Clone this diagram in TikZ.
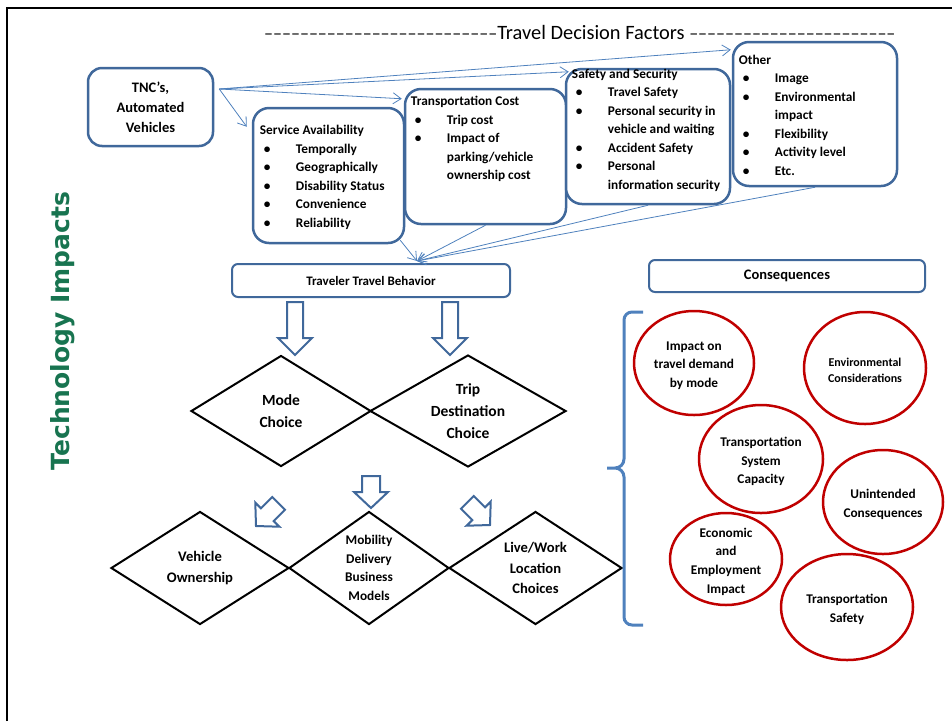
\documentclass[tikz,border=0pt]{standalone}
\usepackage{fontspec}
\setmainfont{Carlito}
\newfontfamily\sidefont{DejaVu Sans}
\usetikzlibrary{shapes.geometric,arrows.meta,calc}

\definecolor{boxblue}{RGB}{64,104,155}
\definecolor{linkblue}{RGB}{79,129,189}
\definecolor{consred}{RGB}{192,0,0}
\definecolor{techgreen}{RGB}{24,116,80}

\newcommand{\itm}{\makebox[36pt][l]{\hspace{4pt}\textbullet}}
\newcommand{\contd}{\hspace*{36pt}}
\newcommand{\dashrun}[1]{\foreach \k in {1,...,#1}{–}}

\tikzset{
  factor/.style={draw=boxblue, line width=2.5pt, rounded corners=16pt, fill=white},
  facttext/.style={anchor=north west, inner sep=0pt, align=left, font=\bfseries\fontsize{13.3}{18.5}\selectfont},
  bar/.style={draw=boxblue, line width=2pt, rounded corners=6pt, fill=white, font=\bfseries\fontsize{13}{16}\selectfont},
  choice/.style={draw, diamond, line width=2pt, inner sep=0pt, align=center, font=\bfseries\fontsize{15.5}{22}\selectfont},
  cons/.style={draw=consred, ellipse, line width=2.5pt},
  constext/.style={align=center, inner sep=0pt, yshift=-2.5pt, font=\bfseries\fontsize{13.3}{18.6}\selectfont},
  link/.style={draw=linkblue, line width=0.8pt, -{Straight Barb[length=8pt,width=11pt]}},
  brace/.style={draw=linkblue, line width=3pt},
  hollow/.style={draw=boxblue, line width=2pt, fill=white, line join=miter},
  bigdown/.pic={\draw[hollow] (-8,-53) -- (8,-53) -- (8,-17) -- (17,-17) -- (0,0) -- (-17,-17) -- (-8,-17) -- cycle;},
  smalldown/.pic={\draw[hollow] (-9,-32) -- (9,-32) -- (9,-16) -- (17,-16) -- (0,0) -- (-17,-16) -- (-9,-16) -- cycle;}
}

\begin{document}
\begin{tikzpicture}[x=1pt, y=-1pt]
\useasboundingbox (0,0) rectangle (952,721);
\draw[line width=2pt] (7,721) -- (7,8) -- (952,8);
\node[anchor=base west, inner sep=0pt, font=\fontsize{20.4}{24}\selectfont] (title) at (264,39) {{\fontsize{18}{24}\selectfont\dashrun{26}}Travel Decision Factors {\fontsize{18}{24}\selectfont\dashrun{23}}};
\node[rotate=90, text=techgreen, font=\sidefont\bfseries\fontsize{25}{30}\selectfont] (side) at (63,331) {Technology Impacts};

\node[factor, rounded corners=14pt, minimum width=125pt, minimum height=78pt, align=center, font=\bfseries\fontsize{14.5}{20}\selectfont] (tnc) at (150.5,107) {TNC’s,\\Automated\\Vehicles};
\node[factor, minimum width=151pt, minimum height=135pt] (sa) at (328.5,175.5) {};
\node[factor, minimum width=161pt, minimum height=135pt] (tc) at (485.5,156.5) {};
\node[factor, minimum width=164pt, minimum height=135pt] (ss) at (648,136.5) {};
\node[factor, minimum width=164pt, minimum height=144pt] (ot) at (815,114) {};
\node[facttext] (satxt) at ($(sa.north west)+(8,18.5)$) {Service Availability\\\itm Temporally\\\itm Geographically\\\itm Disability Status\\\itm Convenience\\\itm Reliability};
\node[facttext] (tctxt) at ($(tc.north west)+(7,8.5)$) {Transportation Cost\\\itm Trip cost\\\itm Impact of\\\contd parking/vehicle\\\contd ownership cost};
\node[facttext] (sstxt) at ($(ss.north west)+(7,1)$) {Safety and Security\\\itm Travel Safety\\\itm Personal security in\\\contd vehicle and waiting\\\itm Accident Safety\\\itm Personal\\\contd information security};
\node[facttext] (ottxt) at ($(ot.north west)+(7,14)$) {Other\\\itm Image\\\itm Environmental\\\contd impact\\\itm Flexibility\\\itm Activity level\\\itm Etc.};

\node[bar, minimum width=278pt, minimum height=33pt] (tb) at (371,280.5) {Traveler Travel Behavior};
\node[bar, minimum width=276pt, minimum height=32pt, font=\bfseries\fontsize{14.5}{18}\selectfont] (cq) at (787,276) {Consequences};

\coordinate (tncout) at ($(tnc.east)+(5,-18)$);
\draw[link] (tncout) -- ($(sa.north west)+(-5,20)$);
\draw[link] (tncout) -- ($(tc.north west)+(-2,11)$);
\draw[link] (tncout) -- ($(ss.north west)+(4,4)$);
\draw[link] (tncout) -- ($(ot.north west)+(-1,9)$);
\coordinate (tbin) at ($(tb.north)+(46,-2)$);
\draw[link] ($(sa.south east)+(-5,-4)$) -- (tbin);
\draw[link] (tc.south) -- (tbin);
\draw[link] (ss.south) -- (tbin);
\draw[link] (ot.south) -- (tbin);

\pic at (295,355) {bigdown};
\pic at (450,355) {bigdown};
\node[choice, aspect=1.62, minimum width=180pt, minimum height=111pt] (mode) at (281,411) {Mode\\Choice};
\node[choice, aspect=1.75, minimum width=196pt, minimum height=112pt] (trip) at (468,411) {Trip\\Destination\\Choice};

\pic at (371,508) {smalldown};
\pic[rotate=-45] at (256,526) {smalldown};
\pic[rotate=45] at (490,525) {smalldown};
\node[choice, aspect=1.58, minimum width=178pt, minimum height=113pt, font=\bfseries\fontsize{14.6}{20.5}\selectfont] (veh) at (200,568) {Vehicle\\Ownership};
\node[choice, aspect=1.42, minimum width=160pt, minimum height=113pt, font=\bfseries\fontsize{13.3}{18.6}\selectfont] (mob) at (369,568) {Mobility\\Delivery\\Business\\Models};
\node[choice, aspect=1.53, minimum width=173pt, minimum height=113pt, font=\bfseries\fontsize{14.6}{20.5}\selectfont] (live) at (535.5,568) {Live/Work\\Location\\Choices};

\draw[brace] (643,312) -- (632,312) to[out=180,in=90] (624,320) -- (624,459) to[out=-90,in=0] (615,468) -- (607,468)
  -- (615,468) to[out=0,in=90] (624,477) -- (624,617) to[out=-90,in=180] (632,625) -- (643,625);

\node[cons, minimum width=120pt, minimum height=104pt] (dem) at (694,363) {};
\node[cons, minimum width=122pt, minimum height=112pt] (env) at (865,368) {};
\node[cons, minimum width=124pt, minimum height=108pt] (cap) at (761,459) {};
\node[cons, minimum width=120pt, minimum height=104pt] (uni) at (883,502) {};
\node[cons, minimum width=112pt, minimum height=92pt] (eco) at (726,559) {};
\node[cons, minimum width=132pt, minimum height=106pt] (saf) at (847,607) {};
\node[constext] (demtxt) at (dem) {Impact on\\travel demand\\by mode};
\node[constext, font=\bfseries\fontsize{12}{16}\selectfont] (envtxt) at (env) {Environmental\\Considerations};
\node[constext] (captxt) at (cap) {Transportation\\System\\Capacity};
\node[constext] (unitxt) at (uni) {Unintended\\Consequences};
\node[constext] (ecotxt) at (eco) {Economic\\and\\Employment\\Impact};
\node[constext] (saftxt) at (saf) {Transportation\\Safety};
\end{tikzpicture}
\end{document}
